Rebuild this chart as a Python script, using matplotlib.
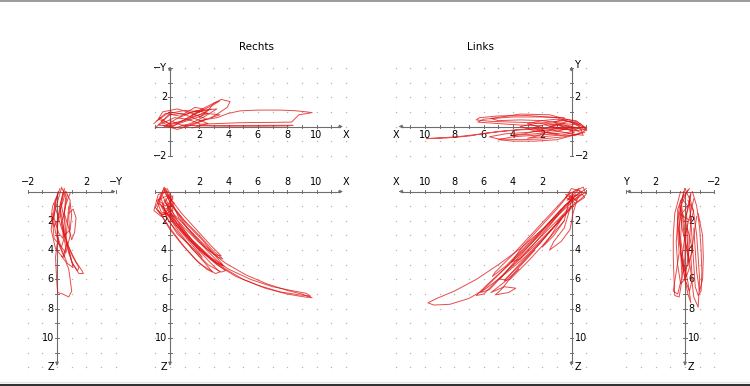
import numpy as np
import matplotlib
matplotlib.use('Agg')
import matplotlib.pyplot as plt
from matplotlib.lines import Line2D

W, H = 750, 386
S = 14.65  # pixels per unit

# ---- trajectory data ----
# Rechts, bottom view: X vs Z
rb_strokes = [
    [(0.1,0.6),(-0.3,-0.2),(-0.6,0.4),(-0.9,1.2),(-0.5,1.6),(0.2,1.3),(0.0,0.5),(-0.4,-0.3),(-0.7,0.5),(-1.0,1.1),(-0.7,1.5),(0.3,1.7)],
    [(-0.2,-0.2),(0.2,0.5),(-0.3,1.0),(-0.8,0.6),(-0.4,-0.2),(0.1,1.0),(-0.6,1.7),(-1.1,1.3),(-0.8,0.2),(-0.2,0.0)],
    [(-0.5,0.3),(0.2,1.8),(1.0,2.8),(2.0,3.8),(3.0,4.8),(3.8,5.4),(3.5,5.5),(2.6,5.0),(1.5,3.9),(0.5,2.6),(-0.3,1.4),(-0.6,0.5)],
    [(0.0,0.4),(0.6,1.8),(1.5,2.9),(2.5,4.0),(3.3,4.8),(3.7,5.1),(3.4,5.0),(2.4,4.3),(1.3,3.3),(0.3,2.2),(-0.5,1.0)],
    [(-0.3,0.8),(0.5,2.2),(1.5,3.5),(2.6,4.7),(3.4,5.5),(3.1,5.6),(2.0,4.9),(1.0,3.8),(0.0,2.5),(-0.8,1.3)],
    [(0.2,1.0),(1.0,2.0),(2.0,3.0),(3.0,4.1),(3.6,4.6),(3.3,4.5),(2.3,3.6),(1.3,2.6),(0.3,1.6),(-0.4,0.6)],
    [(-0.2,0.2),(0.8,1.5),(1.8,2.6),(2.8,3.7),(3.5,4.4),(3.0,4.3),(2.0,3.5),(0.9,2.4),(-0.1,1.3)],
    [(-0.6,1.0),(-0.1,2.0),(0.7,3.0),(1.6,4.0),(2.4,4.9),(2.9,5.5),(2.5,5.3),(1.7,4.6),(0.8,3.6),(0.0,2.6),(-0.6,1.6)],
    [(-0.3,0.5),(0.5,2.0),(1.5,3.3),(2.8,4.5),(4.0,5.3),(5.5,6.0),(7.0,6.5),(8.5,6.8),(9.3,6.95),(9.6,7.15),(8.8,7.05),(7.5,6.85),(6.0,6.4),(4.5,5.8),(3.2,5.0),(2.0,4.0),(1.0,2.9),(0.0,1.6)],
    [(0.1,0.9),(1.2,2.5),(2.5,3.9),(3.8,4.9),(5.2,5.7),(6.6,6.3),(8.0,6.75),(9.0,7.0),(9.7,7.25),(9.2,7.2),(8.0,7.0),(6.5,6.6),(5.0,6.0),(3.8,5.3),(2.8,4.6),(1.7,3.6),(0.6,2.2)],
    [(-0.4,0.0),(0.3,1.2),(1.2,2.3),(2.2,3.3),(3.1,4.4),(3.6,5.0),(3.2,4.9),(2.1,4.0),(1.1,3.0),(0.1,1.9),(-0.7,0.8)],
    [(0.0,0.2),(-0.5,0.9),(-0.2,1.8),(0.5,2.9),(1.4,3.7),(2.2,4.5),(2.0,4.2),(1.2,3.3),(0.4,2.3),(-0.2,1.2),(0.2,0.3)],
    [(-0.8,0.8),(-0.3,1.2),(0.3,0.8),(-0.2,0.3),(-0.9,0.6),(-0.6,1.4),(0.1,1.6)],
]

# Rechts, top view: X vs -Y
rt_strokes = [
    [(-1.0,-0.1),(0.0,0.9),(1.0,1.1),(2.0,1.0),(2.8,1.2),(2.0,0.8),(1.0,0.4),(0.0,0.2),(-0.8,0.5),(-0.5,1.0),(0.5,1.2),(1.5,0.9),(2.5,0.5),(1.5,0.1),(0.5,-0.2),(-0.5,0.1)],
    [(-0.7,0.6),(0.2,0.0),(1.2,0.6),(2.2,1.1),(3.2,1.2),(2.4,0.7),(1.4,0.2),(0.3,-0.1),(-0.6,0.3),(0.0,0.8),(0.8,0.9),(1.8,0.5),(2.6,0.2),(1.5,-0.1)],
    [(-1.1,0.2),(-0.3,0.9),(0.7,0.7),(1.7,1.3),(2.3,1.2),(1.3,0.9),(0.4,0.5),(-0.4,0.0),(0.6,0.3),(1.6,0.7),(2.4,0.9),(3.4,0.8),(2.2,0.4),(1.0,0.0),(0.0,0.4)],
    [(2.0,0.6),(2.6,1.1),(3.0,1.6),(3.5,1.85),(4.1,1.7),(3.9,1.3),(3.3,0.9),(2.8,0.6)],
    [(1.5,0.8),(2.4,1.3),(3.0,1.6),(3.4,1.75),(3.0,1.5),(2.2,1.1),(1.4,0.7)],
    [(2.0,0.4),(3.2,0.6),(4.0,0.9),(4.8,1.07),(6.0,1.12),(7.5,1.12),(8.5,1.08),(9.3,1.0),(9.7,0.95),(9.3,0.88),(8.8,0.8),(8.5,0.5),(8.3,0.3),(7.0,0.28),(5.5,0.27),(4.5,0.25),(3.2,0.2),(2.0,0.15)],
    [(0.8,0.1),(2.0,0.05),(4.0,0.02),(6.0,0.02),(8.0,0.04),(8.4,0.08),(7.0,0.08),(5.0,0.07),(3.0,0.06),(1.5,0.08)],
    [(-0.9,0.4),(0.0,1.0),(1.0,0.8),(1.8,1.1),(2.6,0.9),(1.8,0.6),(0.9,0.3),(0.0,0.0),(-0.8,0.1),(0.3,0.6),(1.2,0.5),(2.0,0.2)],
]

# Rechts, side view: -Y vs Z
rs_strokes = [
    [(0.3,-0.2),(0.0,0.8),(-0.3,2.0),(-0.2,3.2),(0.3,3.8),(0.6,2.8),(0.5,1.5),(0.6,0.3),(0.3,-0.3)],
    [(0.5,-0.2),(0.2,1.0),(0.0,2.3),(0.1,3.5),(0.6,4.2),(0.9,3.0),(0.8,1.8),(0.9,0.6),(0.6,0.0)],
    [(0.1,0.0),(-0.2,1.2),(-0.4,2.6),(-0.1,3.9),(0.4,4.5),(0.7,3.5),(0.4,2.2),(0.2,1.0),(0.4,0.1)],
    [(0.7,0.2),(0.5,1.5),(0.8,2.5),(1.0,3.3),(1.2,2.8),(1.3,1.8),(1.1,1.2),(0.8,1.5)],
    [(0.2,1.5),(0.5,3.0),(0.9,4.0),(1.3,4.8),(1.7,5.4),(1.8,5.6),(1.5,5.6),(1.1,5.0),(0.8,4.2),(0.6,3.4)],
    [(0.4,2.5),(0.7,3.6),(1.1,4.5),(1.5,5.2),(1.4,5.4),(1.0,4.8),(0.8,4.0)],
    [(0.0,3.6),(-0.1,4.5),(-0.05,5.5),(0.0,6.4),(0.05,6.9),(0.4,7.0),(0.8,7.2),(1.0,6.8),(0.9,6.0),(0.8,5.3),(0.6,4.8),(0.3,4.4)],
    [(-0.3,1.5),(-0.1,2.8),(0.2,3.8),(0.5,4.5),(0.6,3.8),(0.4,2.8),(0.1,1.8),(-0.2,0.8)],
    [(0.9,0.1),(0.6,0.9),(0.3,2.2),(0.5,3.0),(0.9,2.6),(1.0,1.6),(0.9,0.8)],
    [(0.2,-0.2),(-0.1,0.6),(-0.2,1.8),(0.1,2.8),(0.4,3.2),(0.5,2.0),(0.3,0.9),(0.5,-0.1)],
    [(0.6,0.0),(0.4,0.7),(0.1,1.6),(0.0,2.9),(0.3,3.9),(0.7,4.9),(1.1,5.2),(0.9,4.3),(0.6,3.3),(0.7,2.2),(0.8,1.0)],
    [(0.0,0.3),(-0.3,1.0),(-0.4,1.8),(-0.2,2.4),(0.2,1.7),(0.3,0.8)],
]

# Links, top view: X vs Y
lt_strokes = [
    [(-1.0,-0.3),(0.0,0.3),(1.0,0.5),(2.0,0.4),(3.0,0.2),(2.0,-0.1),(1.0,-0.3),(0.0,-0.5),(-0.8,-0.6),(-0.5,0.1),(0.5,0.2),(1.5,0.0),(0.5,-0.2),(-0.5,-0.1)],
    [(-0.8,0.0),(0.2,-0.4),(1.2,-0.5),(2.5,-0.3),(3.5,0.0),(2.5,0.2),(1.5,0.3),(0.5,0.4),(-0.4,0.2),(-1.0,-0.2),(-0.2,-0.3),(0.8,-0.1),(1.8,0.1)],
    [(-0.6,0.1),(1.0,0.6),(3.0,0.75),(5.0,0.72),(6.3,0.6),(6.5,0.45),(5.5,0.35),(4.0,0.3),(2.5,0.25),(1.0,0.1),(-0.3,-0.1)],
    [(-0.4,0.3),(1.5,0.8),(3.5,0.85),(5.5,0.55),(5.0,0.4),(3.5,0.45),(2.0,0.4),(0.5,0.2)],
    [(-0.9,-0.4),(0.5,-0.7),(2.0,-0.85),(3.5,-0.9),(5.0,-0.85),(5.6,-0.7),(4.5,-0.5),(3.0,-0.4),(1.5,-0.25),(0.0,-0.2)],
    [(-0.5,-0.5),(1.0,-0.9),(2.5,-1.0),(4.0,-1.0),(5.0,-0.9),(4.0,-0.7),(2.5,-0.6),(1.0,-0.5)],
    [(0.0,-0.1),(1.5,-0.15),(3.0,-0.2),(4.5,-0.3),(5.8,-0.45),(7.0,-0.65),(8.5,-0.78),(9.9,-0.83),(9.5,-0.8),(8.0,-0.72),(6.5,-0.55),(5.0,-0.35),(3.5,-0.2),(2.0,-0.1)],
    [(-1.05,-0.25),(-0.6,0.2),(0.2,0.35),(1.0,0.15),(2.0,-0.2),(3.2,-0.5),(4.0,-0.6),(3.0,-0.55),(2.0,-0.45),(1.0,-0.35),(0.0,0.0)],
    [(0.5,0.6),(2.0,0.65),(4.0,0.65),(6.0,0.5),(6.4,0.3),(5.0,0.2),(3.5,0.1),(2.0,0.05)],
    [(-1.0,-0.1),(-0.3,0.4),(0.5,0.5),(1.2,0.3),(0.6,0.0),(-0.2,-0.4),(0.7,-0.6),(1.7,-0.4),(2.6,-0.1),(1.6,0.2),(0.4,0.1),(-0.6,-0.4)],
    [(-0.7,-0.2),(0.3,0.1),(1.3,-0.2),(2.2,-0.6),(3.0,-0.8),(2.0,-0.7),(0.9,-0.6),(-0.3,-0.6),(-0.9,-0.3)],
]

# Links, bottom view: X vs Z
lb_strokes = [
    [(-1.0,-0.2),(-0.3,0.3),(0.3,0.6),(-0.2,0.0),(-0.8,-0.3),(-1.0,0.2),(-0.4,0.7),(0.2,0.2),(-0.5,-0.2)],
    [(-0.7,0.0),(0.0,-0.2),(0.4,0.4),(-0.3,0.8),(-0.9,0.4),(-0.5,-0.1),(0.2,0.5)],
    [(-0.3,0.2),(0.8,1.5),(2.0,2.8),(3.2,4.0),(4.5,5.2),(5.8,6.4),(6.5,7.1),(6.0,7.0),(4.8,5.8),(3.5,4.6),(2.2,3.4),(1.0,2.2),(0.0,1.0)],
    [(0.0,0.5),(1.2,1.8),(2.5,3.2),(3.8,4.5),(5.0,5.7),(6.2,6.9),(5.6,6.7),(4.3,5.3),(3.0,4.0),(1.8,2.8),(0.6,1.6)],
    [(-0.2,0.8),(1.0,2.2),(2.2,3.6),(3.5,4.9),(4.6,6.1),(4.2,6.0),(3.0,4.8),(1.8,3.5),(0.5,2.0)],
    [(0.3,0.3),(1.5,1.6),(2.8,3.0),(4.0,4.3),(5.2,5.5),(5.4,5.8),(4.5,5.1),(3.2,3.8),(1.9,2.5),(0.7,1.2)],
    [(-0.5,0.3),(0.8,1.5),(2.0,2.6),(3.5,3.9),(5.0,5.0),(6.5,6.0),(8.0,6.8),(9.2,7.3),(9.8,7.6),(9.4,7.75),(8.3,7.7),(7.0,7.3),(5.8,6.6),(4.5,5.6),(3.2,4.5),(2.0,3.3),(0.8,2.0),(-0.3,0.8)],
    [(2.5,4.0),(3.6,5.2),(4.4,6.2),(4.8,6.7),(5.2,7.05),(4.3,6.9),(3.8,6.6),(4.6,6.5),(5.5,6.9),(4.6,6.2),(3.6,5.3)],
    [(-0.4,0.5),(-0.1,1.5),(0.1,2.6),(0.7,3.4),(1.5,4.0),(1.2,3.4),(0.5,2.5),(0.2,1.5),(0.0,0.6)],
    [(0.2,0.8),(0.5,2.0),(1.2,3.0),(2.0,3.8),(1.4,3.0),(0.7,1.9)],
    [(-0.5,0.1),(0.5,1.0),(1.6,2.2),(2.7,3.5),(3.9,4.8),(4.9,6.0),(4.5,6.0),(3.4,4.9),(2.3,3.7),(1.2,2.4),(0.2,1.1)],
    [(0.1,0.1),(1.0,1.2),(2.1,2.4),(3.3,3.7),(4.1,4.8),(3.5,4.6),(2.4,3.4),(1.3,2.1),(0.4,0.9)],
    [(-0.9,0.1),(-0.2,0.5),(0.3,0.9),(-0.1,0.3),(-0.7,0.2),(-0.3,0.6),(0.4,0.2)],
]

# Links, side view: Y vs Z
ls_strokes = [
    [(0.0,-0.2),(0.3,1.0),(0.4,2.5),(0.3,4.0),(0.1,5.5),(-0.2,5.0),(-0.3,3.5),(-0.4,2.0),(-0.3,0.5),(0.0,-0.2)],
    [(-0.2,-0.1),(0.2,0.8),(0.5,2.0),(0.6,3.5),(0.5,5.0),(0.3,6.3),(0.0,6.0),(-0.2,4.5),(-0.2,3.0),(-0.1,1.5),(-0.4,0.2)],
    [(0.3,0.0),(0.7,1.5),(0.8,3.0),(0.8,4.5),(0.75,6.0),(0.7,7.1),(0.4,7.2),(0.2,6.0),(0.3,4.0),(0.4,2.5),(0.2,1.0)],
    [(-0.5,0.0),(-0.8,1.0),(-1.0,2.5),(-1.1,4.0),(-1.15,5.5),(-1.1,6.8),(-0.9,7.1),(-0.7,6.5),(-0.6,5.0),(-0.5,3.5),(-0.4,2.0),(-0.3,0.6)],
    [(-0.3,0.3),(-0.6,1.5),(-0.8,3.0),(-0.9,4.5),(-1.0,6.0),(-0.9,7.9),(-0.6,7.2),(-0.4,5.5),(-0.2,4.0),(-0.1,2.5)],
    [(0.1,0.2),(0.5,1.2),(0.5,2.8),(0.4,4.2),(0.6,5.5),(0.8,6.8),(0.5,7.0),(0.2,5.8),(0.0,4.5),(0.0,3.0),(0.1,1.6)],
    [(-0.6,0.5),(-0.3,1.8),(0.0,3.0),(0.2,4.5),(0.0,6.0),(-0.3,6.8),(-0.5,6.0),(-0.4,4.5),(-0.6,3.0),(-0.8,1.7)],
    [(-0.9,1.5),(-1.2,3.0),(-1.25,4.5),(-1.2,6.0),(-1.0,6.8),(-0.8,5.5),(-0.7,4.0),(-0.6,2.5)],
    [(0.2,1.5),(0.3,3.2),(0.1,4.8),(-0.2,6.2),(-0.4,7.6),(-0.2,7.0),(0.1,5.5),(0.3,4.2)],
    [(-0.3,-0.2),(0.2,0.5),(-0.2,1.0),(0.3,1.6),(-0.4,2.0),(-0.6,1.3),(-0.2,0.6)],
    [(0.1,0.0),(0.3,1.2),(0.2,2.5),(-0.1,3.8),(-0.3,5.2),(-0.1,5.8),(0.2,4.6),(0.4,3.3),(0.5,1.8),(0.3,0.6)],
    [(-0.4,0.1),(-0.2,1.2),(0.0,2.0),(-0.3,3.0),(-0.5,4.0),(-0.3,4.8),(-0.1,3.8),(0.1,2.6),(0.2,1.2)],
]

x_ticks = [2, 4, 6, 8, 10]
z_ticks = [2, 4, 6, 8, 10]

AXC = '#6e6e6e'
DOTC = '#b5b5b5'
RED = '#e01010'
FS = 7

fig = plt.figure(figsize=(W / 100, H / 100), dpi=100)
fig.patch.set_facecolor('white')


def panel(ox, oy, hdir, vdir, hlim, vlim, harrow, varrow):
    pad = 1.0
    h0, h1 = hlim[0] - pad, hlim[1] + pad
    v0, v1 = vlim[0] - pad, vlim[1] + pad
    if hdir > 0:
        left, right, xl = ox + h0 * S, ox + h1 * S, (h0, h1)
    else:
        left, right, xl = ox - h1 * S, ox - h0 * S, (h1, h0)
    if vdir > 0:
        top, bottom, yl = oy - v1 * S, oy - v0 * S, (v0, v1)
    else:
        top, bottom, yl = oy + v0 * S, oy + v1 * S, (v1, v0)
    ax = fig.add_axes([left / W, 1 - bottom / H, (right - left) / W, (bottom - top) / H])
    ax.set_xlim(*xl)
    ax.set_ylim(*yl)
    ax.axis('off')
    # dotted grid
    vstart = 1 if vlim[0] == 0 else vlim[0]
    gh, gv = np.meshgrid(np.arange(hlim[0], hlim[1] + 1), np.arange(vstart, vlim[1] + 1))
    ax.plot(gh.ravel(), gv.ravel(), ls='none', marker='s', ms=0.9, mew=0, color=DOTC)
    # axes with arrows
    ax.plot([hlim[0], harrow - 0.2], [0, 0], color=AXC, lw=0.8)
    ax.plot([0, 0], [vlim[0], varrow - 0.2], color=AXC, lw=0.8)
    ax.annotate('', xy=(harrow, 0), xytext=(harrow - 0.3, 0),
                arrowprops=dict(arrowstyle='-|>', color=AXC, lw=0.6, mutation_scale=5, shrinkA=0, shrinkB=0))
    ax.annotate('', xy=(0, varrow), xytext=(0, varrow - 0.3),
                arrowprops=dict(arrowstyle='-|>', color=AXC, lw=0.6, mutation_scale=5, shrinkA=0, shrinkB=0))
    t = 0.13
    for h in range(hlim[0], int(harrow) + 1):
        if h != 0:
            ax.plot([h, h], [-t, t], color=AXC, lw=0.7)
    for v in range(vlim[0], int(varrow) + 1):
        if v != 0:
            ax.plot([-t, t], [v, v], color=AXC, lw=0.7)
    return ax


def hlabel(ax, h, txt, above):
    ax.annotate(txt, xy=(h, 0), xytext=(0, (9.5 if above else -9) * 0.72), textcoords='offset points',
                ha='center', va='center', fontsize=FS, color='black')


def vlabel(ax, v, txt, right):
    ax.annotate(txt, xy=(0, v), xytext=((3 if right else -3) * 0.72, 0), textcoords='offset points',
                ha='left' if right else 'right', va='center', fontsize=FS, color='black')


def draw(ax, strokes):
    for st in strokes:
        a = np.array(st)
        ax.plot(a[:, 0], a[:, 1], color=RED, lw=0.7, alpha=0.75, clip_on=False, zorder=5)


# Rechts top: X vs -Y
ax = panel(170, 126.5, 1, 1, (-1, 12), (-2, 4), 11.8, 4.1)
for v in x_ticks:
    hlabel(ax, v, str(v), False)
hlabel(ax, 12, 'X', False)
vlabel(ax, 2, '2', False)
vlabel(ax, -2, '\u22122', False)
vlabel(ax, 4.0, '\u2212Y', False)
draw(ax, rt_strokes)

# Rechts bottom: X vs Z
ax = panel(170, 191.5, 1, -1, (-1, 12), (0, 12), 11.8, 11.9)
for v in x_ticks:
    hlabel(ax, v, str(v), True)
hlabel(ax, 12, 'X', True)
for v in z_ticks:
    vlabel(ax, v, str(v), False)
vlabel(ax, 12, 'Z', False)
draw(ax, rb_strokes)

# Rechts side: -Y vs Z
ax = panel(57, 191.5, 1, -1, (-2, 4), (0, 12), 4.0, 11.9)
hlabel(ax, -2, '\u22122', True)
hlabel(ax, 2, '2', True)
hlabel(ax, 4, '\u2212Y', True)
for v in z_ticks:
    vlabel(ax, v, str(v), False)
vlabel(ax, 12, 'Z', False)
draw(ax, rs_strokes)

# Links top: X vs Y
ax = panel(571.5, 126.5, -1, 1, (-1, 12), (-2, 4), 11.8, 4.1)
for v in x_ticks:
    hlabel(ax, v, str(v), False)
hlabel(ax, 12, 'X', False)
vlabel(ax, 2, '2', True)
vlabel(ax, -2, '\u22122', True)
vlabel(ax, 4.2, 'Y', True)
draw(ax, lt_strokes)

# Links bottom: X vs Z
ax = panel(571.5, 191.5, -1, -1, (-1, 12), (0, 12), 11.8, 11.9)
for v in x_ticks:
    hlabel(ax, v, str(v), True)
hlabel(ax, 12, 'X', True)
for v in z_ticks:
    vlabel(ax, v, str(v), True)
vlabel(ax, 12, 'Z', True)
draw(ax, lb_strokes)

# Links side: Y vs Z
ax = panel(685, 191.5, -1, -1, (-2, 4), (0, 12), 4.0, 11.9)
hlabel(ax, -2, '\u22122', True)
hlabel(ax, 2, '2', True)
hlabel(ax, 4, 'Y', True)
for v in z_ticks:
    vlabel(ax, v, str(v), True)
vlabel(ax, 12, 'Z', True)
draw(ax, ls_strokes)

fig.text(256 / W, 1 - 47 / H, 'Rechts', ha='center', va='center', fontsize=7.5)
fig.text(480 / W, 1 - 47 / H, 'Links', ha='center', va='center', fontsize=7.5)

# frame lines
fig.add_artist(Line2D([0, 1], [1 - 0.8 / H, 1 - 0.8 / H], color='#8a8a8a', lw=1.2))
fig.add_artist(Line2D([0, 1], [1 - 381.5 / H, 1 - 381.5 / H], color='#e4e4e4', lw=0.8))
fig.add_artist(Line2D([0, 1], [1 - 384.5 / H, 1 - 384.5 / H], color='#333333', lw=1.5))

fig.savefig('out.png', dpi=100)
